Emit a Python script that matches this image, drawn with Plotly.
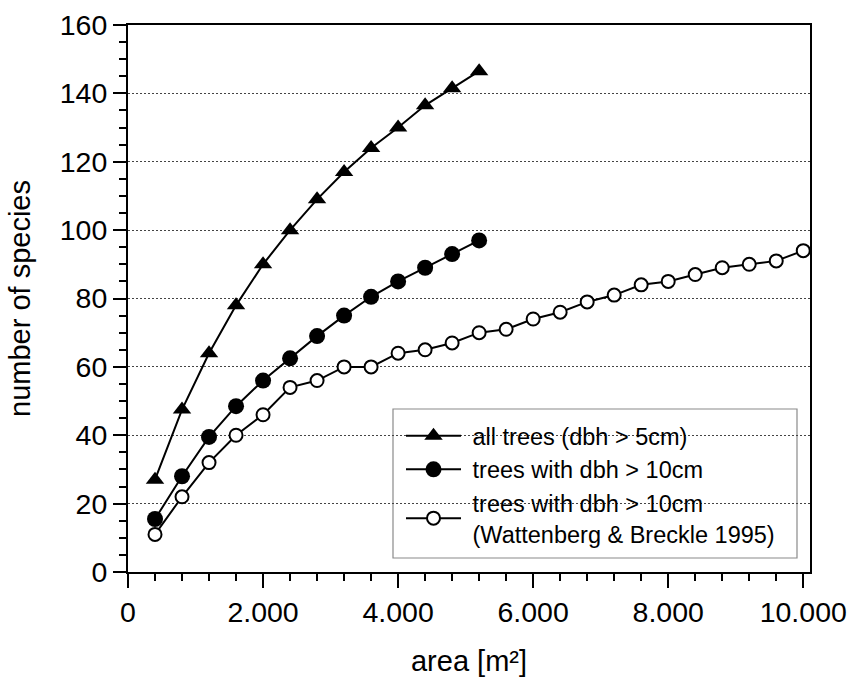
import plotly.graph_objects as go

# Data
area_a = [400, 800, 1200, 1600, 2000, 2400, 2800, 3200, 3600, 4000, 4400, 4800, 5200]
all_trees = [27, 47.5, 64, 78, 90, 100, 109, 117, 124, 130, 136.5, 141.5, 146.5]

area_b = [400, 800, 1200, 1600, 2000, 2400, 2800, 3200, 3600, 4000, 4400, 4800, 5200]
trees_10 = [15.5, 28, 39.5, 48.5, 56, 62.5, 69, 75, 80.5, 85, 89, 93, 97]

area_c = [400, 800, 1200, 1600, 2000, 2400, 2800, 3200, 3600, 4000, 4400, 4800, 5200,
          5600, 6000, 6400, 6800, 7200, 7600, 8000, 8400, 8800, 9200, 9600, 10000]
trees_wb = [11, 22, 32, 40, 46, 54, 56, 60, 60, 64, 65, 67, 70,
            71, 74, 76, 79, 81, 84, 85, 87, 89, 90, 91, 94]

NB = "\u00a0"
names = [NB + "all trees (dbh > 5cm)",
         NB + "trees with dbh > 10cm",
         NB + "trees with dbh > 10cm<br>" + NB + "(Wattenberg & Breckle 1995)"]

x_ticks = [0, 2000, 4000, 6000, 8000, 10000]
y_ticks = [0, 20, 40, 60, 80, 100, 120, 140, 160]

FONT = "Liberation Sans, Arial, sans-serif"

fig = go.Figure()
fig.add_trace(go.Scatter(
    x=area_a, y=all_trees, mode="lines+markers", name=names[0],
    line=dict(color="black", width=2),
    marker=dict(symbol="triangle-up", size=16, color="black"),
    legendgroup="a"))
fig.add_trace(go.Scatter(
    x=area_b, y=trees_10, mode="lines+markers", name=names[1],
    line=dict(color="black", width=2),
    marker=dict(symbol="circle", size=16, color="black"),
    legendgroup="b"))
fig.add_trace(go.Scatter(
    x=area_c, y=trees_wb, mode="lines+markers", name=names[2],
    line=dict(color="black", width=2),
    marker=dict(symbol="circle", size=13, color="white",
                line=dict(color="black", width=2)),
    legendgroup="c"))

L, R, T, B = 128, 40, 25, 105
W, H = 850, 677

def px_x(px):
    return (px - L) / (W - L - R)

def px_y(py):
    return (H - B - py) / (H - T - B)

fig.add_shape(type="rect", xref="paper", yref="paper",
              x0=px_x(393), x1=px_x(797), y0=px_y(558), y1=px_y(409),
              line=dict(color="#8a8a8a", width=1.2), fillcolor="white",
              layer="between")

fig.update_layout(
    width=W, height=H,
    margin=dict(l=L, r=R, t=T, b=B, autoexpand=False),
    paper_bgcolor="white", plot_bgcolor="white",
    font=dict(family=FONT, color="black", size=29),
    separators=",.",
    showlegend=True,
    legend=dict(x=px_x(401), y=px_y(414), xanchor="left", yanchor="top",
                bgcolor="rgba(0,0,0,0)", borderwidth=0,
                font=dict(size=23.5, family=FONT, color="black"),
                itemwidth=55, tracegroupgap=0, traceorder="grouped"),
)

fig.update_xaxes(
    range=[0, 10100], tickvals=x_ticks, tickformat=",d", automargin=False,
    showline=True, linecolor="black", linewidth=2, mirror=True,
    ticks="outside", ticklen=14, tickwidth=2, tickcolor="black",
    minor=dict(dtick=400, ticks="outside", ticklen=7, tickwidth=2, tickcolor="black"),
    showgrid=False, zeroline=False,
    tickfont=dict(size=28.5),
    title=dict(text="area [m²]", font=dict(size=29), standoff=26),
)
fig.update_yaxes(
    range=[0, 160], tickvals=y_ticks, automargin=False,
    showline=True, linecolor="black", linewidth=2, mirror=True,
    ticks="outside", ticklen=13, tickwidth=2, tickcolor="black",
    minor=dict(dtick=5, ticks="outside", ticklen=7, tickwidth=2, tickcolor="black",
               showgrid=False),
    showgrid=True, gridcolor="#444444", gridwidth=1, griddash="2px,2px",
    zeroline=False,
    tickfont=dict(size=28.5),
    title=dict(text="number of species", font=dict(size=29), standoff=21),
)

fig.write_html("out.html")
